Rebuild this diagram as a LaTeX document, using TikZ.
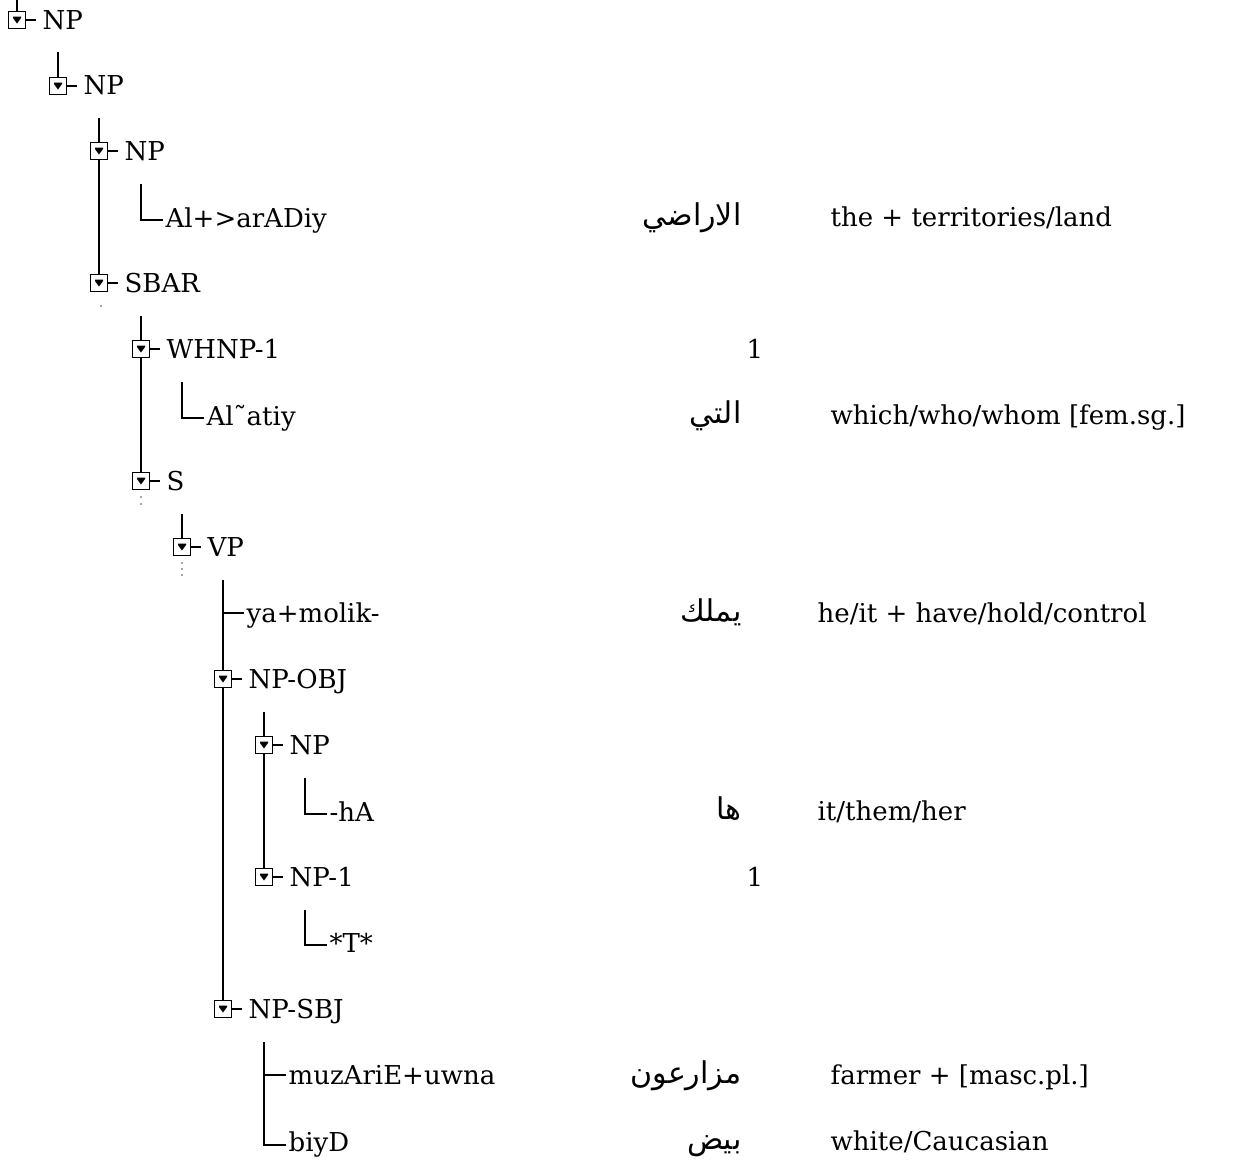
\documentclass[tikz,border=0pt]{standalone}
\usepackage{fontspec}
\setmainfont{DejaVu Serif}
\newfontfamily\arabicfont[Script=Arabic]{DejaVu Sans}
\TeXXeTstate=1
\begin{document}
\begin{tikzpicture}[x=0.5pt,y=-0.5pt,
  every path/.style={line width=0.65pt},
  tbox/.style={draw, fill=white, minimum size=8.3pt, inner sep=0pt, line width=0.7pt,
    path picture={\fill[black] ([shift={(-4,-3.5)}]path picture bounding box.center) -- ++(8,0) -- ++(0,1.5) -- ++(-4,5.5) -- ++(-4,-5.5) -- cycle;}},
  tlbl/.style={anchor=base west, inner sep=0pt, font=\fontsize{13}{15}\selectfont},
  ar/.style={anchor=base east, inner sep=0pt, font=\fontsize{15}{17}\arabicfont},
  en/.style={anchor=base west, inner sep=0pt, font=\fontsize{13}{15}\selectfont},
  num/.style={anchor=base, inner sep=0pt, font=\fontsize{13}{15}\selectfont},
  dotm/.style={fill=black!70, draw=none}]
\fill[white] (0,0) rectangle (1253,1167);
\useasboundingbox (0,0) rectangle (1253,1167);

% ---------- free ends of vertical connectors ----------
\coordinate (v0) at (17,0);
\coordinate (v1) at (58,52);
\coordinate (v2) at (99,118);
\coordinate (v3) at (141,184);
\coordinate (v4) at (141,316);
\coordinate (v5) at (182,382);
\coordinate (v6) at (182,514);
\coordinate (v7) at (223,580);
\coordinate (v8) at (264,712);
\coordinate (v9) at (305,778);
\coordinate (v10) at (305,910);
\coordinate (v11) at (264,1042);

% ---------- tree labels ----------
\node[tlbl] (t0) at (42,29) {NP};
\node[tlbl] (t1) at (83,94) {NP};
\node[tlbl] (t2) at (124,160) {NP};
\node[tlbl] (t3) at (165,227) {Al+>arADiy};
\node[tlbl] (t4) at (124,292) {SBAR};
\node[tlbl] (t5) at (166,358) {WHNP-1};
\node[tlbl] (t6) at (206,425) {Al˜atiy};
\node[tlbl] (t7) at (166,490) {S};
\node[tlbl] (t8) at (207,556) {VP};
\node[tlbl] (t9) at (246,622) {ya+molik-};
\node[tlbl] (t10) at (248,688) {NP-OBJ};
\node[tlbl] (t11) at (289,754) {NP};
\node[tlbl] (t12) at (329,821) {-hA};
\node[tlbl] (t13) at (289,886) {NP-1};
\node[tlbl] (t14) at (329,952) {*T*};
\node[tlbl] (t15) at (248,1018) {NP-SBJ};
\node[tlbl] (t16) at (288,1084) {muzAriE+uwna};
\node[tlbl] (t17) at (288,1151) {biyD};

% ---------- boxes ----------
\coordinate (p0) at (17,20);
\coordinate (p1) at (58,86);
\coordinate (p2) at (99,151);
\coordinate (p4) at (99,283);
\coordinate (p5) at (141,349);
\coordinate (p7) at (141,481);
\coordinate (p8) at (182,547);
\coordinate (p10) at (223,679);
\coordinate (p11) at (264,745);
\coordinate (p13) at (264,877);
\coordinate (p15) at (223,1009);

% vertical connectors (behind the boxes)
\draw (v0) -- (p0);
\draw (v1) -- (p1);
\draw (v2) -- (p4);
\draw (v4) -- (p7);
\draw (v6) -- (p8);
\draw (v7) -- (p15);
\draw (v8) -- (p13);

\foreach \n in {0,1,2,4,5,7,8,10,11,13,15}
  \node[tbox] (b\n) at (p\n) {};

\foreach \n in {0,1,2,4,5,7,8,10,11,13,15}
  \draw (b\n.east) -- ([xshift=-3pt]b\n.east -| t\n.west);

% leaf connectors
\draw (v3) |- ([shift={(-2,-7)}]t3.base west);
\draw (v5) |- ([shift={(-2,-7)}]t6.base west);
\draw (v7 |- t9.base) ++(0,-9) coordinate (j9) -- ([shift={(-2,-9)}]t9.base west);
\draw (v9) |- ([shift={(-2,-7)}]t12.base west);
\draw (v10) |- ([shift={(-2,-7)}]t14.base west);
\draw (v11) |- ([shift={(-2,-6)}]t17.base west);
\draw (v11 |- t16.base) ++(0,-9) coordinate (j16) -- ([shift={(-2,-9)}]t16.base west);

% small dots under expanded nodes
\fill[dotm] (101,306) circle (0.8);
\fill[dotm] (141,497) circle (0.8);
\fill[dotm] (141,504) circle (0.8);
\fill[dotm] (182,563) circle (0.8);
\fill[dotm] (182,569) circle (0.8);
\fill[dotm] (182,575) circle (0.8);

% ---------- Arabic column ----------
\node[ar] (a3) at (742,225) {\beginR الاراضي\endR};
\node[ar] (a6) at (742,423) {\beginR التي\endR};
\node[ar] (a9) at (742,621) {\beginR يملك\endR};
\node[ar] (a12) at (742,819) {\beginR ها\endR};
\node[ar] (a16) at (742,1083) {\beginR مزارعون\endR};
\node[ar] (a17) at (742,1149) {\beginR بيض\endR};

% ---------- index numbers ----------
\node[num] (n5) at (755,358) {1};
\node[num] (n13) at (755,886) {1};

% ---------- glosses ----------
\node[en] (e3) at (830,226) {the + territories/land};
\node[en] (e6) at (830,424) {which/who/whom [fem.sg.]};
\node[en] (e9) at (817,622) {he/it + have/hold/control};
\node[en] (e12) at (817,820) {it/them/her};
\node[en] (e16) at (830,1084) {farmer + [masc.pl.]};
\node[en] (e17) at (830,1150) {white/Caucasian};
\end{tikzpicture}
\end{document}
